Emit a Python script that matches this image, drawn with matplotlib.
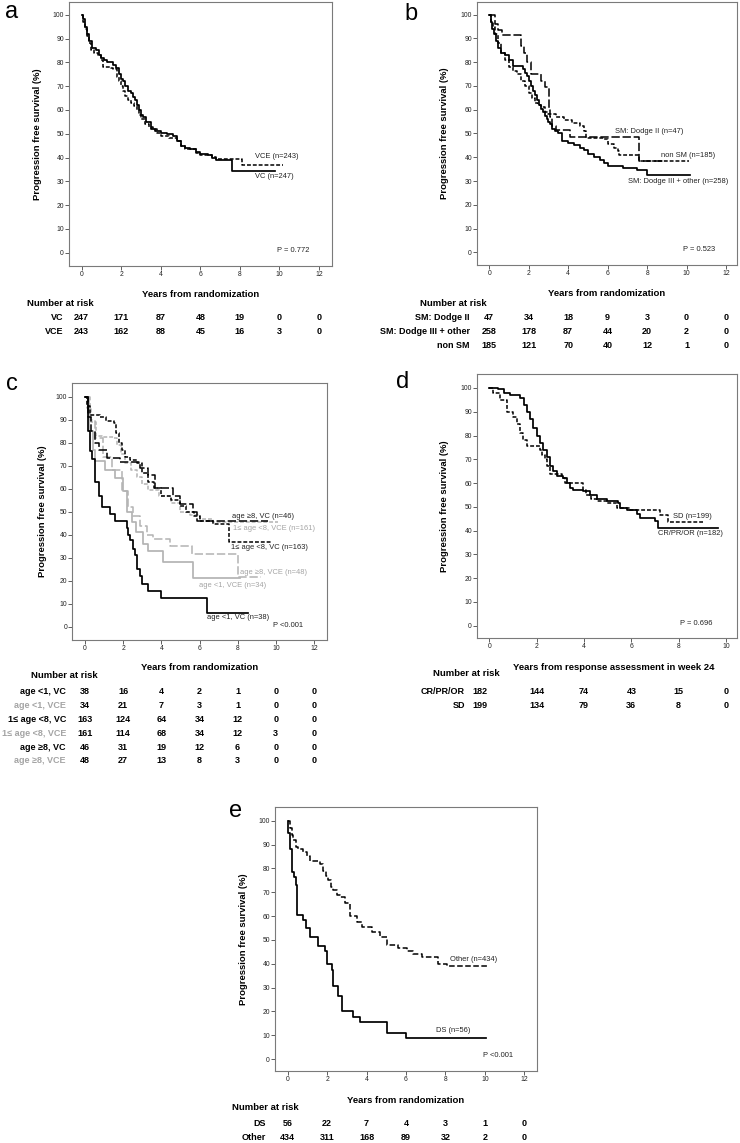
import matplotlib
matplotlib.use('Agg')
import matplotlib.pyplot as plt
from matplotlib.transforms import blended_transform_factory

plt.rcParams['font.family'] = ['Liberation Sans', 'DejaVu Sans']
plt.rcParams['lines.scale_dashes'] = False

W, H = 740, 1143
GRAY = '#b3b3b3'
GRAY_TXT = '#a4a4a4'

# ---- data ----
years = [0, 2, 4, 6, 8, 10, 12]
years_d = [0, 2, 4, 6, 8, 10]

# panel a
a_vc_t = [0, 0.05, 0.15, 0.25, 0.35, 0.5, 0.7, 0.9, 1.0, 1.15, 1.3, 1.6, 1.75, 1.9, 2.0, 2.1, 2.2, 2.35,
          2.5, 2.6, 2.7, 2.8, 2.9, 3.0, 3.1, 3.25, 3.5, 3.7, 4.0, 4.3, 4.6, 4.8, 5.0, 5.2, 5.5, 5.8, 6.0,
          6.4, 6.6, 6.8, 7.6, 9.8]
a_vc_s = [100, 98, 95, 92, 89, 86, 85, 83, 82, 81, 80, 79, 77.5, 75, 73, 72, 70, 68, 67, 65.5, 64, 62,
          60, 58, 57, 55, 52, 51, 50.5, 50, 49, 47, 45, 44, 43.5, 42.5, 41.5, 41, 40, 39, 34.3, 34.3]
a_vce_t = [0, 0.05, 0.15, 0.25, 0.35, 0.45, 0.6, 0.8, 1.0, 1.1, 1.5, 1.6, 1.8, 1.9, 2.0, 2.1, 2.2, 2.35,
           2.5, 2.65, 2.8, 2.9, 3.0, 3.2, 3.4, 3.6, 3.8, 4.0, 4.4, 4.8, 5.0, 5.2, 5.8, 6.0, 6.6, 6.8, 8.1,
           10.2]
a_vce_s = [100, 97, 94, 91, 88, 85, 84, 83, 81, 78, 77.5, 77, 74, 72, 70, 68, 66, 64, 63, 61.5, 60, 58,
           56, 54, 53, 52, 50.5, 49, 48, 47, 45, 43.5, 42, 41, 40.3, 39.5, 36.8, 36.8]
a_rows = ['VC', 'VCE']
a_risk = [[247, 171, 87, 48, 19, 0, 0],
          [243, 162, 88, 45, 16, 3, 0]]

# panel b
b_d2_t = [0, 0.3, 0.45, 0.63, 1.6, 1.75, 1.9, 2.1, 2.6, 2.8, 3.05, 3.1, 3.2, 3.4, 4.1, 7.6, 8.8]
b_d2_s = [100, 96, 93.5, 91.5, 87, 84, 80, 75, 72, 69.5, 60, 57, 53, 51.5, 48.5, 38.5, 38.5]
b_d3_t = [0, 0.08, 0.15, 0.25, 0.35, 0.45, 0.6, 0.8, 1.0, 1.2, 1.7, 1.8, 1.9, 2.0, 2.1, 2.2, 2.3, 2.4,
          2.5, 2.6, 2.7, 2.8, 2.9, 3.0, 3.1, 3.2, 3.35, 3.5, 3.7, 4.0, 4.3, 4.6, 4.8, 5.0, 5.3, 5.6, 5.8,
          6.0, 6.8, 7.5, 8.0, 10.2]
b_d3_s = [100, 97, 94, 92, 89, 86, 84, 83, 81, 78.5, 77, 75.5, 74, 72, 70, 68, 66, 64, 62, 60.5, 59,
          57.5, 56, 55, 54, 52, 51, 50, 47, 46, 45, 44, 43, 41.5, 40, 39, 37.5, 36.5, 35.5, 34.5, 32.5, 32.5]
b_non_t = [0, 0.1, 0.2, 0.3, 0.45, 0.6, 0.8, 1.0, 1.2, 1.4, 1.6, 1.8, 2.0, 2.15, 2.3, 2.45, 2.6, 2.8,
           3.0, 3.4, 3.8, 4.2, 4.6, 4.8, 4.9, 5.8, 6.0, 6.3, 6.5, 6.6, 7.6, 10.1]
b_non_s = [100, 97, 95, 92, 88, 84, 81, 78, 76.5, 75, 72, 70, 67, 65, 63, 62, 61, 59, 58, 57, 55.5,
           54.5, 53, 51, 48, 47.5, 45.5, 44, 42.5, 41, 38.5, 38.5]
b_rows = ['SM: Dodge II', 'SM: Dodge III + other', 'non SM']
b_risk = [[47, 34, 18, 9, 3, 0, 0],
          [258, 178, 87, 44, 20, 2, 0],
          [185, 121, 70, 40, 12, 1, 0]]

# panel c
c_lt1vc_t = [0, 0.17, 0.26, 0.35, 0.52, 0.73, 0.87, 1.31, 1.57, 2.18, 2.27, 2.36, 2.53, 2.62, 2.74,
             2.88, 2.97, 3.28, 3.98, 6.41, 8.56]
c_lt1vc_s = [100, 85, 76.5, 73, 63, 57, 52, 49, 46, 43, 40, 37.5, 34, 31, 25, 22, 18.5, 15.5, 12.5, 6, 6]
c_lt1vce_t = [0, 0.23, 0.44, 0.52, 1.05, 1.57, 2.01, 2.18, 2.45, 2.67, 3.06, 3.32, 4.07, 5.64, 8.12]
c_lt1vce_s = [100, 85, 77, 72, 68, 64.5, 59, 50, 45.5, 41, 36, 33, 28, 21, 21]
c_midvc_t = [0, 0.1, 0.26, 0.8, 1.1, 1.5, 1.65, 1.8, 1.95, 2.1, 2.35, 2.7, 3.0, 3.3, 3.6, 4.0, 4.5,
             5.0, 5.3, 5.7, 6.0, 6.7, 7.57, 9.78]
c_midvc_s = [100, 96, 92, 91, 89.5, 88.5, 84, 80, 77, 74, 72.5, 71, 67, 63, 60.5, 57, 55, 52.5, 50,
             48, 46, 44.5, 37, 37]
c_midvce_t = [0, 0.1, 0.3, 0.6, 0.9, 1.5, 1.7, 1.9, 2.1, 2.4, 2.7, 3.0, 3.3, 3.9, 4.5, 5.0, 5.5, 6.0,
              6.7, 10.1]
c_midvce_s = [100, 95, 89, 83, 82.5, 82, 79, 75, 71, 68, 65, 62, 59.5, 57, 54, 50, 48.5, 47, 45.5, 45.5]
c_ge8vc_t = [0, 0.15, 0.3, 0.5, 0.75, 1.14, 1.83, 2.88, 3.32, 3.67, 4.63, 4.98, 5.68, 5.85, 9.6]
c_ge8vc_s = [100, 91, 85, 80, 77, 73.5, 71.5, 69, 66, 60.5, 57, 53.5, 50, 46, 46]
c_ge8vce_t = [0, 0.26, 0.52, 0.96, 1.4, 1.92, 2.27, 2.53, 2.88, 3.23, 3.58, 4.45, 5.59, 8.03, 9.2]
c_ge8vce_s = [100, 90, 82, 74, 68, 59, 52, 48, 44, 40, 38, 35, 31.5, 21.5, 21.5]
c_rows = ['age <1, VC', 'age <1, VCE', '1\u2264 age <8, VC', '1\u2264 age <8, VCE',
          'age \u22658, VC', 'age \u22658, VCE']
c_risk = [[38, 16, 4, 2, 1, 0, 0],
          [34, 21, 7, 3, 1, 0, 0],
          [163, 124, 64, 34, 12, 0, 0],
          [161, 114, 68, 34, 12, 3, 0],
          [46, 31, 19, 12, 6, 0, 0],
          [48, 27, 13, 8, 3, 0, 0]]

# panel d
d_cr_t = [0, 0.38, 0.6, 0.87, 1.3, 1.45, 1.58, 1.72, 1.86, 2.0, 2.14, 2.28, 2.42, 2.56, 2.7, 2.85,
          3.13, 3.27, 3.41, 3.55, 3.97, 4.25, 4.54, 4.96, 5.45, 5.52, 5.8, 6.23, 6.37, 7.0, 7.14, 9.68]
d_cr_s = [100, 99.5, 98, 97, 96, 93, 90, 87, 83, 80, 77, 74, 71, 67, 65, 63, 62, 60, 58, 57, 56.5,
          55, 53.5, 52.5, 51.5, 49.5, 48.5, 47, 45.5, 44, 41, 41]
d_sd_t = [0, 0.17, 0.45, 0.73, 1.01, 1.15, 1.3, 1.44, 1.58, 2.14, 2.22, 2.35, 2.45, 2.56, 3.06, 3.2,
          3.97, 4.1, 4.3, 4.54, 4.96, 5.38, 5.94, 7.2, 7.56, 9.04]
d_sd_s = [100, 98, 95, 90, 88, 85, 81, 78, 75.5, 74, 72, 70, 67, 64, 62, 60, 57, 55, 53.5, 52.5,
          51.5, 49.5, 48.5, 46.5, 43.5, 43.5]
d_rows = ['CR/PR/OR', 'SD']
d_risk = [[182, 144, 74, 43, 15, 0],
          [199, 134, 79, 36, 8, 0]]

# panel e
e_ds_t = [0, 0.03, 0.12, 0.2, 0.32, 0.42, 0.46, 0.79, 0.93, 1.13, 1.55, 1.89, 1.98, 2.23, 2.32,
          2.57, 2.74, 3.33, 3.67, 5.05, 6.0, 10.06]
e_ds_s = [100, 95, 88, 78.5, 76.5, 73, 60.5, 58.5, 55, 51, 47.5, 45.5, 40, 37.5, 30.5, 26.5, 20,
          17.5, 15.5, 11, 9, 9]
e_oth_t = [0, 0.1, 0.2, 0.29, 0.4, 0.54, 0.79, 1.0, 1.13, 1.64, 1.81, 1.95, 2.06, 2.2, 2.32, 2.5,
           2.65, 2.91, 3.16, 3.5, 3.75, 4.26, 4.68, 5.02, 5.61, 6.03, 6.37, 6.79, 7.64, 8.06, 10.22]
e_oth_s = [100, 97, 94, 92, 89, 88, 87, 85, 83, 82, 79, 77, 75, 72, 71, 69, 68, 65.5, 60, 57.5,
           55.5, 53.5, 51, 48, 46.5, 45.5, 44, 43, 40, 39, 39]
e_rows = ['DS', 'Other']
e_risk = [[56, 22, 7, 4, 3, 1, 0],
          [434, 311, 168, 89, 32, 2, 0]]

SOLID = '-'
SHORT = (0, (2.8, 1.4))
LONG = (0, (6, 2))
MED = (0, (4, 1.8))

fig = plt.figure(figsize=(W / 100, H / 100), dpi=100)


def lims(e0, e1, p0, p1, v0, v1):
    k = (v1 - v0) / (p1 - p0)
    return v0 + (e0 - p0) * k, v0 + (e1 - p0) * k


def make_panel(box, xpx, ypx, xmax, letter, letter_xy, ylab_x, xlab, xlab_y, xlab_x=None):
    l, t, r, b = box
    ax = fig.add_axes([l / W, 1 - b / H, (r - l) / W, (b - t) / H])
    ax.set_xlim(*lims(l, r, xpx[0], xpx[1], 0, xmax))
    ax.set_ylim(*lims(b, t, ypx[0], ypx[1], 0, 100))
    ax.set_xticks(range(0, xmax + 1, 2))
    ax.set_yticks(range(0, 101, 10))
    ax.tick_params(direction='out', length=2.6, width=0.6, labelsize=4.9, pad=1,
                   color='#444444', labelcolor='#222222')
    for sp in ax.spines.values():
        sp.set_color('#7a7a7a')
        sp.set_linewidth(0.8)
    ax.set_ylabel('Progression free survival (%)', fontsize=6.8, fontweight='bold')
    ax.yaxis.set_label_coords((ylab_x - l) / (r - l), 0.5)
    ax.set_xlabel(xlab, fontsize=6.8, fontweight='bold')
    cx = 0.5 if xlab_x is None else (xlab_x - l) / (r - l)
    ax.xaxis.set_label_coords(cx, (b - xlab_y) / (b - t))
    fig.text(letter_xy[0] / W, 1 - letter_xy[1] / H, letter, fontsize=17,
             ha='left', va='baseline')
    return ax


def km(ax, t, s, ls, color='black', lw=1.1):
    ax.step(t, s, where='post', color=color, linestyle=ls, linewidth=lw)


def note(ax, x, y, txt, color='#222222'):
    ax.text(x, y, txt, fontsize=5.4, ha='left', va='center', color=color)


def risk_table(ax, cols, head_xy, lab_right, rows_y, names, values, colors=None):
    tr = blended_transform_factory(ax.transData, fig.transFigure)
    fig.text(head_xy[0] / W, 1 - head_xy[1] / H, 'Number at risk', fontsize=6.8,
             fontweight='bold', ha='left', va='center')
    for i, (nm, vals) in enumerate(zip(names, values)):
        yy = 1 - rows_y[i] / H
        c = colors[i] if colors else 'black'
        fig.text(lab_right / W, yy, nm, fontsize=6.5, fontweight='bold',
                 ha='right', va='center', color=c)
        for xv, v in zip(cols, vals):
            ax.text(xv, yy, str(v), transform=tr, fontsize=6.5, fontweight='bold',
                    ha='center', va='center')


# ---- panel a ----
ax = make_panel((69, 2, 332, 266), (81.7, 319), (252.7, 14.7), 12, 'a', (5, 18.5), 41.7,
                'Years from randomization', 290)
km(ax, a_vce_t, a_vce_s, SHORT)
km(ax, a_vc_t, a_vc_s, SOLID, lw=1.25)
note(ax, 8.77, 40.6, 'VCE (n=243)')
note(ax, 8.77, 31.9, 'VC (n=247)')
note(ax, 9.86, 1.1, 'P = 0.772')
risk_table(ax, years, (27, 303), 63, [318, 332], a_rows, a_risk)

# ---- panel b ----
ax = make_panel((477, 2, 737, 265), (489.3, 726), (252.3, 14.7), 12, 'b', (404, 20), 449.3,
                'Years from randomization', 289)
km(ax, b_d2_t, b_d2_s, LONG)
km(ax, b_non_t, b_non_s, SHORT)
km(ax, b_d3_t, b_d3_s, SOLID, lw=1.25)
note(ax, 6.37, 51.0, 'SM: Dodge II (n=47)')
note(ax, 8.69, 40.8, 'non SM (n=185)')
note(ax, 7.05, 29.7, 'SM: Dodge III + other (n=258)')
note(ax, 9.84, 1.3, 'P = 0.523')
risk_table(ax, years, (420, 303), 470, [318, 332, 346], b_rows, b_risk)

# ---- panel c ----
ax = make_panel((72, 383, 327, 640), (85, 314), (626.7, 396.7), 12, 'c', (6, 390), 46.7,
                'Years from randomization', 663)
km(ax, c_ge8vce_t, c_ge8vce_s, LONG, GRAY)
km(ax, c_midvce_t, c_midvce_s, SHORT, GRAY)
km(ax, c_lt1vce_t, c_lt1vce_s, SOLID, GRAY, lw=1.25)
km(ax, c_ge8vc_t, c_ge8vc_s, LONG)
km(ax, c_midvc_t, c_midvc_s, SHORT)
km(ax, c_lt1vc_t, c_lt1vc_s, SOLID, lw=1.25)
note(ax, 7.69, 48.1, 'age \u22658, VC (n=46)')
note(ax, 7.74, 42.8, '1\u2264 age <8, VCE (n=161)', GRAY_TXT)
note(ax, 7.63, 34.5, '1\u2264 age <8, VC (n=163)')
note(ax, 8.12, 23.6, 'age \u22658, VCE (n=48)', GRAY_TXT)
note(ax, 5.99, 18.1, 'age <1, VCE (n=34)', GRAY_TXT)
note(ax, 6.41, 4.1, 'age <1, VC (n=38)')
note(ax, 9.87, 0.7, 'P <0.001')
risk_table(ax, years, (31, 676), 66, [691.7, 705.7, 719.3, 733, 747, 760.7], c_rows, c_risk,
           ['black', GRAY_TXT] * 3)

# ---- panel d ----
ax = make_panel((477, 374, 737, 638), (489.3, 726), (625.7, 388), 10, 'd', (396, 388), 449.3,
                'Years from response assessment in week 24', 663, xlab_x=614)
km(ax, d_sd_t, d_sd_s, SHORT)
km(ax, d_cr_t, d_cr_s, SOLID, lw=1.25)
note(ax, 7.77, 45.9, 'SD (n=199)')
note(ax, 7.14, 38.9, 'CR/PR/OR (n=182)')
note(ax, 8.06, 1.0, 'P = 0.696')
d_cols = [-0.4] + years_d[1:]
risk_table(ax, d_cols, (433, 673), 465, [691, 705.7], d_rows, d_risk)

# ---- panel e ----
ax = make_panel((275, 807, 537, 1071), (287.7, 524.3), (1059, 820.7), 12, 'e', (229, 816.7), 247.7,
                'Years from randomization', 1096)
km(ax, e_oth_t, e_oth_s, MED)
km(ax, e_ds_t, e_ds_s, SOLID, lw=1.25)
note(ax, 8.23, 41.9, 'Other (n=434)')
note(ax, 7.52, 11.9, 'DS (n=56)')
note(ax, 9.89, 1.3, 'P <0.001')
risk_table(ax, years, (232, 1108), 266, [1124, 1137.5], e_rows, e_risk)

fig.savefig('out.png', dpi=100, facecolor='white')
